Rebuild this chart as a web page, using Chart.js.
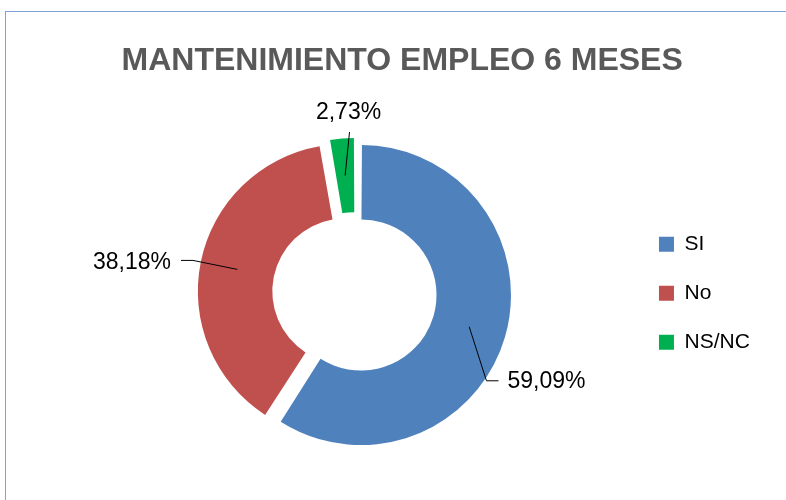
<!DOCTYPE html>
<html>
<head>
<meta charset="utf-8">
<script src="https://cdn.jsdelivr.net/npm/chart.js@4.4.1/dist/chart.umd.min.js"></script>
<style>
  html, body { margin: 0; padding: 0; background: #fff; overflow: hidden; }
  #wrap { position: relative; width: 786px; height: 500px; }
  #frame { position: absolute; left: 5px; top: 11px; width: 800px; height: 520px;
           border: 1px solid #7ea3db; pointer-events: none; }
  canvas { position: absolute; left: 0; top: 0; }
</style>
</head>
<body>
<div id="wrap">
  <canvas id="myChart" width="786" height="500"></canvas>
  <div id="frame"></div>
</div>
<script>
// data (answers out of 110)
const chartTitle = 'MANTENIMIENTO EMPLEO 6 MESES';
const categories = ['SI', 'No', 'NS/NC'];
const counts = [65, 42, 3];
const sliceColors = ['#4F81BD', '#C0504D', '#00B050'];

const fontFamily = "'Liberation Sans', Arial, sans-serif";

// where each percent label sits, relative to its slice
const labelSpots = [
  { shift: 18, gap: 2, tail: 12 },   // SI
  { shift: 0, gap: 8, tail: -12 },   // No
  { shift: 3, gap: 6, tail: 0 }      // NS/NC
];

function percentText(v, total) {
  return (v / total * 100).toFixed(2).replace('.', ',') + '%';
}

// empty box on the left so the ring sits left of the title centre
const leftSpacer = {
  id: 'leftSpacer',
  beforeInit(chart) {
    Chart.layouts.addBox(chart, {
      position: 'left',
      weight: 100,
      fullSize: false,
      options: {},
      left: 0, top: 0, right: 0, bottom: 0, width: 0, height: 0,
      isHorizontal() { return false; },
      update(maxWidth, maxHeight) {
        this.width = 35;
        this.height = maxHeight;
      },
      draw() {}
    });
  }
};

// leader lines + percentages
const leaderLabels = {
  id: 'leaderLabels',
  afterDatasetsDraw(chart) {
    const ctx = chart.ctx;
    const meta = chart.getDatasetMeta(0);
    const values = chart.data.datasets[0].data;
    const total = values.reduce((a, b) => a + b, 0);

    ctx.save();
    ctx.strokeStyle = '#000';
    ctx.lineWidth = 1;
    ctx.fillStyle = '#000';
    ctx.font = '23px ' + fontFamily;

    meta.data.forEach((arc, i) => {
      const p = arc.getProps(['x', 'y', 'startAngle', 'endAngle', 'innerRadius', 'outerRadius', 'circumference'], true);
      const off = (arc.options.offset || 0) / 4;
      const mid = (p.startAngle + p.endAngle) / 2;
      const grow = off * (1 - Math.sin(Math.min(Math.PI, p.circumference)));
      const cx = p.x + Math.cos(mid) * off;
      const cy = p.y + Math.sin(mid) * off;
      const spot = labelSpots[i];

      const rMid = (p.innerRadius + p.outerRadius) / 2 + grow;
      const x0 = cx + Math.cos(mid) * rMid;
      const y0 = cy + Math.sin(mid) * rMid;
      const a = mid + spot.shift * Math.PI / 180;
      const rOut = p.outerRadius + grow + spot.gap;
      const x1 = cx + Math.cos(a) * rOut;
      const y1 = cy + Math.sin(a) * rOut;
      const x2 = x1 + spot.tail;

      ctx.beginPath();
      ctx.moveTo(x0, y0);
      ctx.lineTo(x1, y1);
      if (spot.tail !== 0) ctx.lineTo(x2, y1);
      ctx.stroke();

      const txt = percentText(values[i], total);
      ctx.textBaseline = 'middle';
      if (spot.tail > 0) {
        ctx.textAlign = 'left';
        ctx.fillText(txt, x2 + 9, y1 + 1);
      } else if (spot.tail < 0) {
        ctx.textAlign = 'right';
        ctx.fillText(txt, x2 - 10, y1 + 2);
      } else {
        ctx.textAlign = 'center';
        ctx.fillText(txt, x1 - 1, y1 - 19);
      }
    });
    ctx.restore();
  }
};

const ctx = document.querySelector('#myChart');

new Chart(ctx, {
  type: 'doughnut',
  data: {
    labels: categories,
    datasets: [{
      data: counts,
      backgroundColor: sliceColors,
      borderWidth: 0,
      offset: [24, 41, 25],
      hoverOffset: 0
    }]
  },
  options: {
    responsive: false,
    animation: false,
    events: [],
    cutout: '48.3%',
    layout: {
      padding: { left: 44.5, right: 26.2, top: 0, bottom: 42.2 }
    },
    plugins: {
      tooltip: { enabled: false },
      title: {
        display: true,
        text: chartTitle,
        color: '#595959',
        font: { family: fontFamily, size: 32, weight: 'bold', lineHeight: 1.2 },
        padding: { top: 42, bottom: 48.4 }
      },
      legend: {
        position: 'right',
        fullSize: false,
        labels: {
          boxWidth: 15,
          boxHeight: 15,
          padding: 28,
          color: '#000',
          font: { family: fontFamily, size: 21 }
        }
      }
    }
  },
  plugins: [leftSpacer, leaderLabels]
});
</script>
</body>
</html>
